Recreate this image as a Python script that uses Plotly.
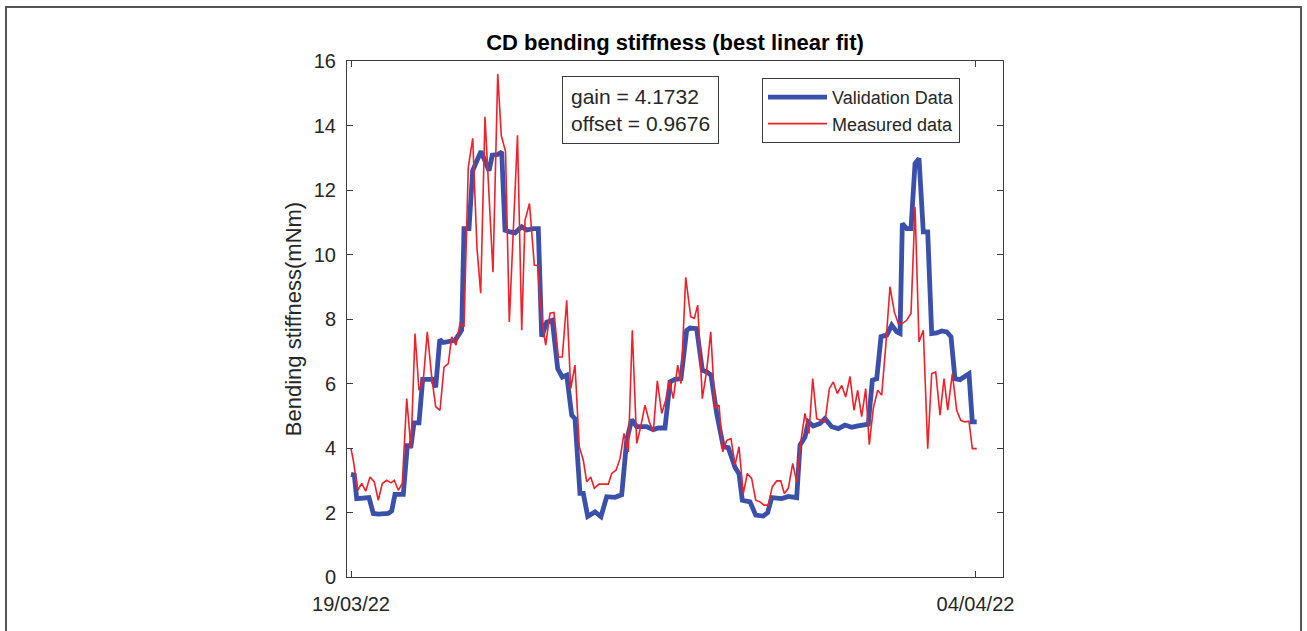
import pandas as pd
import plotly.graph_objects as go

# Time offsets are in days since 19/03/22 00:00
start = pd.Timestamp("2022-03-19 00:00")

valid_days = [0.00, 0.085, 0.146, 0.274, 0.461, 0.571, 0.70, 0.956, 1.043, 1.127,
              1.255, 1.34, 1.443, 1.537, 1.614, 1.742, 1.837, 2.083, 2.17, 2.273,
              2.365, 2.493, 2.58, 2.665, 2.749, 2.836, 2.895, 3.023, 3.118, 3.221,
              3.331, 3.433, 3.536, 3.62, 3.759, 3.861, 3.946, 4.074, 4.202, 4.374,
              4.502, 4.671, 4.799, 4.886, 5.014, 5.157, 5.296, 5.414, 5.527, 5.655,
              5.739, 5.867, 5.952, 6.065, 6.252, 6.405, 6.551, 6.764, 6.936, 7.064,
              7.192, 7.32, 7.576, 7.745, 7.873, 8.045, 8.173, 8.301, 8.455, 8.601,
              8.686, 8.857, 9.001, 9.114, 9.224, 9.37, 9.539, 9.667, 9.839, 9.941,
              10.026, 10.223, 10.369, 10.563, 10.676, 10.779, 10.907, 11.035, 11.204, 11.332,
              11.419, 11.504, 11.632, 11.717, 11.845, 12.016, 12.144, 12.316, 12.485, 12.657,
              12.829, 12.957, 13.126, 13.254, 13.357, 13.47, 13.58, 13.726, 13.854, 13.982,
              14.067, 14.126, 14.239, 14.348, 14.451, 14.553, 14.663, 14.776, 14.878, 15.006,
              15.135, 15.263, 15.373, 15.475, 15.604, 15.732, 15.834, 15.919, 16.032]
valid_vals = [3.18, 3.16, 2.43, 2.45, 2.46, 1.97, 1.95, 1.97, 2.05, 2.56,
              2.54, 2.56, 4.07, 4.07, 4.78, 4.78, 6.13, 6.13, 5.88, 7.36,
              7.27, 7.31, 7.31, 7.34, 7.49, 7.66, 10.8, 10.8, 12.6, 12.9,
              13.2, 12.9, 12.6, 13.08, 13.1, 13.18, 10.75, 10.7, 10.67, 10.86,
              10.76, 10.8, 10.8, 7.45, 7.9, 7.96, 6.46, 6.2, 6.26, 5.02,
              4.91, 2.59, 2.59, 1.88, 2.02, 1.87, 2.49, 2.47, 2.55, 4.24,
              4.88, 4.66, 4.66, 4.57, 4.62, 4.62, 6.05, 6.13, 6.15, 7.65,
              7.72, 7.7, 6.41, 6.36, 6.26, 5.07, 4.04, 4.01, 3.4, 3.2,
              2.38, 2.33, 1.92, 1.89, 2.0, 2.46, 2.46, 2.43, 2.5, 2.48,
              2.46, 4.09, 4.34, 4.81, 4.68, 4.76, 4.91, 4.66, 4.6, 4.71,
              4.64, 4.68, 4.71, 4.74, 6.1, 6.15, 7.45, 7.5, 7.81, 7.6,
              7.55, 10.96, 10.8, 10.8, 12.82, 12.98, 10.7, 10.7, 7.55, 7.57,
              7.63, 7.6, 7.45, 6.15, 6.12, 6.2, 6.3, 4.81, 4.81]

meas_days = [0.0, 0.059, 0.172, 0.274, 0.377, 0.487, 0.597, 0.699, 0.802, 0.915,
             1.025, 1.109, 1.212, 1.314, 1.427, 1.537, 1.64, 1.742, 1.852, 1.955,
             2.068, 2.17, 2.28, 2.383, 2.493, 2.58, 2.69, 2.793, 2.895, 3.005,
             3.118, 3.228, 3.323, 3.433, 3.638, 3.759, 3.851, 3.959, 4.056, 4.266,
             4.374, 4.458, 4.573, 4.696, 4.784, 4.886, 4.988, 5.099, 5.201, 5.311,
             5.414, 5.527, 5.629, 5.739, 5.849, 5.952, 6.039, 6.142, 6.234, 6.354,
             6.508, 6.592, 6.679, 6.79, 6.892, 6.995, 7.105, 7.207, 7.32, 7.422,
             7.533, 7.643, 7.745, 7.848, 7.961, 8.063, 8.155, 8.258, 8.37, 8.455,
             8.576, 8.704, 8.796, 8.883, 9.001, 9.114, 9.217, 9.327, 9.429, 9.524,
             9.627, 9.737, 9.839, 9.941, 10.051, 10.154, 10.266, 10.369, 10.479, 10.582,
             10.692, 10.794, 10.907, 11.01, 11.102, 11.204, 11.317, 11.419, 11.529, 11.632,
             11.734, 11.829, 11.932, 12.042, 12.144, 12.255, 12.357, 12.46, 12.572, 12.675,
             12.785, 12.887, 12.982, 13.084, 13.187, 13.279, 13.382, 13.494, 13.597, 13.699,
             13.809, 13.92, 14.022, 14.125, 14.237, 14.348, 14.451, 14.553, 14.663, 14.776,
             14.878, 14.981, 15.091, 15.194, 15.289, 15.407, 15.519, 15.622, 15.732, 15.834,
             15.919, 16.032]
meas_vals = [3.98, 3.62, 2.69, 2.9, 2.66, 3.1, 2.95, 2.38, 2.9, 3.0,
             2.92, 3.0, 2.69, 2.9, 5.53, 3.98, 7.55, 5.79, 6.1, 7.6,
             6.2, 5.28, 5.17, 6.51, 6.62, 7.45, 7.19, 7.86, 7.76, 12.7,
             13.6, 10.2, 8.8, 14.27, 9.45, 15.6, 13.68, 13.2, 7.91, 13.7,
             7.65, 11.06, 11.58, 9.67, 9.65, 8.02, 7.19, 8.18, 8.2, 6.82,
             6.82, 8.58, 5.84, 6.57, 4.04, 3.62, 2.95, 3.1, 2.75, 2.88,
             2.88, 2.88, 3.21, 3.31, 3.67, 4.45, 3.88, 7.65, 4.14, 4.66,
             5.33, 4.81, 4.5, 6.08, 5.07, 5.48, 6.08, 5.53, 6.57, 6.0,
             9.29, 8.07, 8.02, 8.43, 5.53, 6.41, 7.6, 5.23, 5.33, 3.88,
             4.24, 4.29, 3.47, 4.04, 2.59, 3.21, 3.05, 2.38, 2.33, 2.23,
             2.23, 2.8, 2.98, 2.98, 2.59, 2.75, 3.52, 2.95, 4.24, 5.07,
             4.45, 6.15, 4.91, 4.86, 4.81, 5.84, 6.05, 5.69, 5.94, 5.58,
             6.22, 5.17, 5.79, 4.97, 5.84, 4.1, 5.23, 5.79, 5.64, 7.14,
             9.0, 8.22, 7.86, 7.86, 7.96, 8.17, 11.48, 7.29, 7.65, 3.98,
             6.31, 6.36, 5.02, 6.15, 5.17, 6.31, 5.17, 4.86, 4.81, 4.83,
             3.98, 3.98]

x_tick_days = [0, 16]
x_tick_text = ["19/03/22", "04/04/22"]
y_ticks = [0, 2, 4, 6, 8, 10, 12, 14, 16]

fit_gain = 4.1732
fit_offset = 0.9676


def to_time(days):
    return [start + pd.Timedelta(days=d) for d in days]


FONT = "Liberation Sans, Arial, Helvetica, sans-serif"
AX = "#3c3c3c"

fig = go.Figure()
fig.add_trace(go.Scatter(
    x=to_time(valid_days), y=valid_vals, mode="lines", name="Validation Data",
    line=dict(color="#3a50ab", width=4.8),
))
fig.add_trace(go.Scatter(
    x=to_time(meas_days), y=meas_vals, mode="lines", name="Measured data",
    line=dict(color="#f0202a", width=1.6),
))

fig.update_layout(
    width=1307, height=631,
    margin=dict(l=347, r=304, t=61, b=54),
    paper_bgcolor="white", plot_bgcolor="white",
    font=dict(family=FONT, color="#262626", size=18),
    title=dict(text="<b>CD bending stiffness (best linear fit)</b>",
               x=0.5, xref="paper", xanchor="center",
               y=1 - 42 / 631, yanchor="middle",
               font=dict(size=22, color="#000000")),
    showlegend=True,
    legend=dict(x=(762 - 347) / 656, y=(577 - 78) / 516, xanchor="left", yanchor="top",
                bgcolor="white", bordercolor=AX, borderwidth=1,
                font=dict(size=18, color="#262626"),
                tracegroupgap=0, itemwidth=59),
)

fig.update_xaxes(
    type="date",
    range=[start - pd.Timedelta(days=0.1025), start + pd.Timedelta(days=16.705)],
    tickvals=to_time(x_tick_days), ticktext=x_tick_text,
    ticks="inside", ticklen=6, tickcolor=AX,
    showline=True, linecolor=AX, linewidth=1, mirror="ticks",
    showgrid=False, zeroline=False,
    tickfont=dict(size=20, color="#262626"),
    ticklabelstandoff=9,
)
fig.update_yaxes(
    range=[0, 16], tickvals=y_ticks,
    ticks="inside", ticklen=6, tickcolor=AX,
    showline=True, linecolor=AX, linewidth=1, mirror="ticks",
    showgrid=False, zeroline=False,
    tickfont=dict(size=20, color="#262626"),
    ticklabelstandoff=6,
    title=dict(text="Bending stiffness(mNm)", standoff=6,
               font=dict(size=22, color="#262626")),
)

# Fit parameter box
fig.add_annotation(
    xref="paper", yref="paper",
    x=(562 - 347) / 656, y=(577 - 76) / 516, xanchor="left", yanchor="top",
    text=f"gain = {fit_gain:.4f}<br>offset = {fit_offset:.4f}",
    align="left", showarrow=False,
    font=dict(size=21, color="#262626"),
    bordercolor=AX, borderwidth=1, borderpad=8, bgcolor="white",
)

# Figure frame
fig.add_shape(type="path", xref="paper", yref="paper",
              path="M -0.5198,-0.2 L -0.5198,1.1047 L 1.4543,1.1047 L 1.4543,-0.2",
              line=dict(color="#555555", width=2))

fig.write_html("out.html", config={"displayModeBar": False})
